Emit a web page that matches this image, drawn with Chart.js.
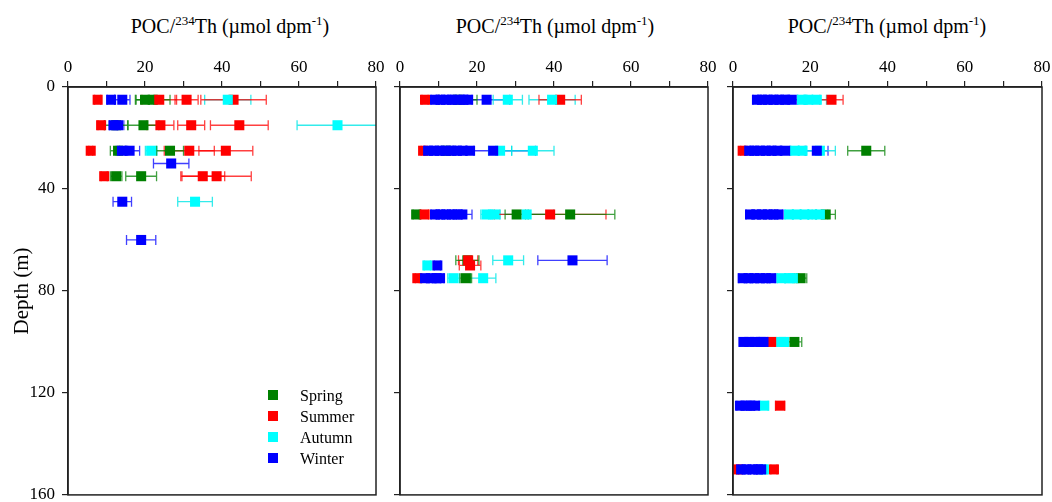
<!DOCTYPE html>
<html>
<head>
<meta charset="utf-8">
<script src="https://cdn.jsdelivr.net/npm/chart.js@4.4.0/dist/chart.umd.min.js"></script>
<style>
  body { margin: 0; width: 1052px; height: 502px; overflow: hidden; position: relative; background: #fff;
         font-family: "Liberation Serif", "Times New Roman", serif; color: #000; }
  canvas { position: absolute; top: 0; }
  .ttl { position: absolute; top: 14px; font-size: 20px; line-height: 24px; white-space: nowrap; transform: translateX(-50%); }
  .ttl sup { font-size: 13px; line-height: 0; }
  #legend { position: absolute; left: 268px; top: 386px; font-size: 16px; }
  #legend div { height: 21px; line-height: 19px; position: relative; padding-left: 32px; }
  #legend span { position: absolute; left: 0; top: 4px; width: 10px; height: 10px; }
</style>
</head>
<body>
<div class="ttl" style="left:230px">POC/<sup>234</sup>Th (µmol dpm<sup>-1</sup>)</div>
<div class="ttl" style="left:555px">POC/<sup>234</sup>Th (µmol dpm<sup>-1</sup>)</div>
<div class="ttl" style="left:887px">POC/<sup>234</sup>Th (µmol dpm<sup>-1</sup>)</div>

<canvas id="c1" width="392" height="502" style="left:0"></canvas>
<canvas id="c2" width="344" height="502" style="left:380px"></canvas>
<canvas id="c3" width="340" height="502" style="left:712px"></canvas>

<div id="legend">
  <div><span style="background:#008000"></span>Spring</div>
  <div><span style="background:#ff0000"></span>Summer</div>
  <div><span style="background:#00ffff"></span>Autumn</div>
  <div><span style="background:#0000ff"></span>Winter</div>
</div>

<script>
// rows are [depth (m), POC/234Th, error]
const seasons = ['Spring', 'Summer', 'Autumn', 'Winter'];
const xTicks  = [0, 20, 40, 60, 80];
const yTicks  = [0, 40, 80, 120, 160];

// ── left panel
const p1Spring = [[5, 20, 2.3], [5, 22, 4.5], [15, 12.5, 3], [15, 19.6, 4], [25, 13, 2], [25, 26.5, 3.5],
                  [35, 12.5, 1.5], [35, 19, 4]];
const p1Summer = [[5, 7.7, 0.8], [5, 23.7, 4.5], [5, 30.8, 3], [5, 43, 8.5], [15, 8.6, 0.8], [15, 24, 3.5],
                  [15, 32, 3.5], [15, 44.5, 7.5], [25, 5.9, 0.5], [25, 31.5, 6.5], [25, 41, 7],
                  [35, 9.4, 0.8], [35, 35, 5.7], [35, 38.6, 9]];
const p1Autumn = [[5, 41.5, 6], [15, 70, 10.5], [25, 21.6, 1.5], [45, 33, 4.5]];
const p1Winter = [[5, 11.2, 1], [5, 14.1, 2], [15, 11.8, 1], [15, 13, 1.5], [25, 14, 1.5], [25, 16, 2.6],
                  [30, 26.8, 4.6], [45, 14.1, 2.4], [60, 19, 3.8]];

// ── middle panel
const p2Spring = [[5, 15, 5], [25, 12, 2], [50, 4.2, 0.8], [50, 30.3, 3], [50, 44.2, 11.6],
                  [68, 17.5, 3], [75, 17.1, 1.5]];
const p2Summer = [[5, 6.5, 0.8], [5, 41.6, 5.5], [25, 6, 0.5], [50, 6.4, 1], [50, 39, 14.5],
                  [68, 17.7, 2.5], [70, 18.2, 2.8], [75, 4.5, 0.5]];
const p2Autumn = [[5, 28, 3.8], [5, 39.5, 6], [25, 26, 3], [25, 34.5, 5.5], [50, 22.5, 1.5], [50, 24.5, 1.5],
                  [50, 32.9, 7], [68, 28.1, 4], [70, 7.1, 0.8], [75, 13.9, 1.5], [75, 21.6, 3.3]];
const p2Winter = [[5, 9.1, 1], [5, 10.5, 1], [5, 12, 1.2], [5, 13.5, 1], [5, 15, 1.5], [5, 16.5, 1], [5, 17.7, 1],
                  [5, 22.5, 6],
                  [25, 7.3, 1], [25, 8.8, 1], [25, 10.3, 1], [25, 11.8, 1], [25, 13.3, 1.2], [25, 14.8, 1],
                  [25, 16.3, 1], [25, 18.2, 1], [25, 24.2, 11],
                  [50, 9.1, 1], [50, 10.5, 1], [50, 12, 1], [50, 13.5, 1.2], [50, 15, 1], [50, 16.2, 2.5],
                  [68, 44.8, 9], [70, 9.7, 0.8],
                  [75, 6.5, 1], [75, 8, 1], [75, 9.5, 1], [75, 10.4, 1]];

// ── right panel
const p3Spring = [[25, 34.5, 4.8], [50, 24, 2.5], [75, 17.5, 1.6], [100, 15.9, 1.9]];
const p3Summer = [[5, 25.5, 3], [25, 2.5, 0.5], [100, 10, 0.8], [125, 12.2, 1.2], [150, 1.2, 0.3], [150, 10.6, 0.8]];
const p3Autumn = [[5, 17.8, 1], [5, 19.5, 1], [5, 21.7, 2.5], [25, 16, 1], [25, 18, 1], [25, 22.5, 4],
                  [50, 14.5, 1], [50, 16.5, 1], [50, 18.5, 1], [50, 20.5, 1], [50, 22.5, 2],
                  [75, 12.5, 1], [75, 14.5, 1], [75, 15.5, 1.5], [100, 12.5, 1], [100, 13.2, 1],
                  [125, 8.1, 1], [150, 8, 0.8]];
const p3Winter = [[5, 6.2, 1], [5, 7.5, 1], [5, 9, 1], [5, 10.5, 1], [5, 12, 1], [5, 13.5, 1], [5, 15.2, 1.5],
                  [25, 4.2, 1], [25, 5.5, 1], [25, 7, 1], [25, 8.5, 1], [25, 10, 1], [25, 11.5, 1], [25, 13.5, 1.3],
                  [25, 21.7, 2.9],
                  [50, 4.4, 1], [50, 6, 1], [50, 7.5, 1], [50, 9, 1], [50, 10.5, 1], [50, 11.8, 1],
                  [75, 2.5, 1], [75, 4, 1], [75, 5.5, 1], [75, 7, 1], [75, 8.5, 1], [75, 9.9, 1],
                  [100, 2.7, 1], [100, 4.2, 1], [100, 5.7, 1], [100, 7.2, 1], [100, 7.9, 1],
                  [125, 1.8, 0.8], [125, 3.2, 1], [125, 4.5, 1], [125, 5.7, 1],
                  [150, 2.1, 0.8], [150, 3.5, 1], [150, 5, 1], [150, 6.5, 1], [150, 7.3, 1]];

const fill = { Spring: '#008000', Summer: '#ff0000', Autumn: '#00ffff', Winter: '#0000ff' };
const bar  = { Spring: 'rgba(0,128,0,.75)', Summer: 'rgba(255,0,0,.75)', Autumn: 'rgba(0,230,230,.8)', Winter: 'rgba(0,0,255,.75)' };

Chart.defaults.font.family = '"Liberation Serif", "Times New Roman", serif';
Chart.defaults.font.size = 17;
Chart.defaults.color = '#000';

// horizontal error bars under the squares, plus the closed frame
const errorBars = {
  id: 'errorBars',
  beforeDatasetsDraw(chart) {
    const { ctx, chartArea: a, scales: { x, y } } = chart;
    ctx.save();
    ctx.beginPath();
    ctx.rect(a.left, a.top, a.right - a.left, a.bottom - a.top);
    ctx.clip();
    ctx.lineWidth = 1.3;
    chart.data.datasets.slice().reverse().forEach(ds => {
      ctx.strokeStyle = ds.barColor;
      ds.data.forEach(p => {
        if (!p.err) return;
        const yy = y.getPixelForValue(p.y);
        const x0 = x.getPixelForValue(p.x - p.err), x1 = x.getPixelForValue(p.x + p.err);
        ctx.beginPath();
        ctx.moveTo(x0, yy); ctx.lineTo(x1, yy);
        ctx.moveTo(x0, yy - 5); ctx.lineTo(x0, yy + 5);
        ctx.moveTo(x1, yy - 5); ctx.lineTo(x1, yy + 5);
        ctx.stroke();
      });
    });
    ctx.restore();
  },
  afterDraw(chart) {
    const { ctx, chartArea: a } = chart;
    ctx.save();
    ctx.strokeStyle = '#222';
    ctx.lineWidth = 1.5;
    ctx.strokeRect(a.left, a.top, a.right - a.left, a.bottom - a.top);
    ctx.restore();
  }
};

function makePanel(id, rows, opts) {
  const datasets = seasons.map((s, i) => ({
    label: s,
    data: rows[i].map(r => ({ x: r[1], y: r[0], err: r[2] })),
    backgroundColor: fill[s],
    borderWidth: 0,
    pointStyle: 'rect',
    pointRadius: 7.1,
    pointHoverRadius: 7.1,
    barColor: bar[s],
    order: 3 - i,          // winter on top
  }));

  return new Chart(document.getElementById(id), {
    type: 'scatter',
    data: { datasets },
    plugins: [errorBars],
    options: {
      responsive: false,
      animation: false,
      devicePixelRatio: 1,
      layout: { padding: { left: opts.padLeft, right: opts.padRight, top: 57, bottom: 6 } },
      plugins: { legend: { display: false }, tooltip: { enabled: false } },
      scales: {
        x: {
          type: 'linear', position: 'top', min: 0, max: 80,
          afterBuildTicks: s => { s.ticks = [0, 10, 20, 30, 40, 50, 60, 70, 80].map(v => ({ value: v })); },
          ticks: { autoSkip: false, maxRotation: 0, padding: 3,
                   callback: v => xTicks.includes(v) ? v : '' },
          grid: { drawOnChartArea: false, tickLength: 6, color: '#222', lineWidth: 1.2 },
          border: { color: '#222', width: 1.5 },
          afterFit: s => { s.height = 30; s.paddingLeft = 0; s.paddingRight = 0; },
        },
        y: {
          type: 'linear', reverse: true, min: 0, max: 160,
          afterBuildTicks: s => { s.ticks = yTicks.map(v => ({ value: v })); },
          ticks: { padding: 7, callback: v => opts.yLabels ? v : '' },
          grid: { drawOnChartArea: false, tickLength: 6, color: '#222', lineWidth: 1.2 },
          border: { color: '#222', width: 1.5 },
          title: { display: !!opts.yLabels, text: 'Depth (m)', font: { size: 21 }, padding: 0 },
          afterFit: s => { s.width = opts.yWidth; s.paddingTop = 0; s.paddingBottom = 0; },
        },
      },
    },
  });
}

makePanel('c1', [p1Spring, p1Summer, p1Autumn, p1Winter], { padLeft: 10, padRight: 16, yWidth: 58, yLabels: true });
makePanel('c2', [p2Spring, p2Summer, p2Autumn, p2Winter], { padLeft: 8, padRight: 16, yWidth: 12 });
makePanel('c3', [p3Spring, p3Summer, p3Autumn, p3Winter], { padLeft: 9, padRight: 10, yWidth: 12 });
</script>
</body>
</html>
